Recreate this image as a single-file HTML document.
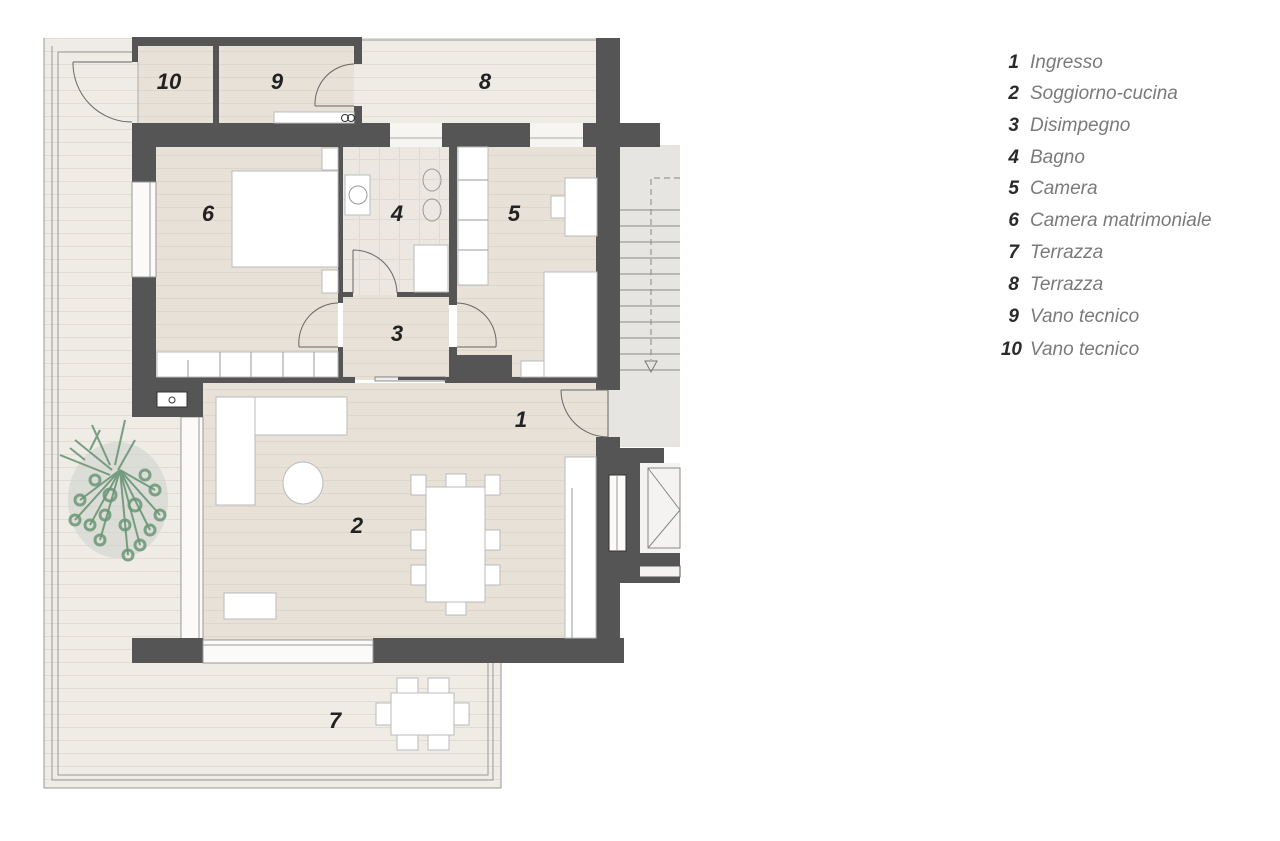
<!DOCTYPE html>
<html><head><meta charset="utf-8"><style>
html,body{margin:0;padding:0;background:#fff;}
svg{display:block;}
.leg{font-family:"Liberation Sans",sans-serif;font-size:19px;}
</style></head><body>
<svg width="1280" height="841" viewBox="0 0 1280 841" xmlns="http://www.w3.org/2000/svg">
<defs>
<pattern id="tl" width="20" height="13" patternUnits="userSpaceOnUse"><rect width="20" height="13" fill="#efebe5"/><line x1="0" y1="12.5" x2="20" y2="12.5" stroke="#e2dcd3" stroke-width="1"/></pattern>
<pattern id="fl" width="20" height="13" patternUnits="userSpaceOnUse"><rect width="20" height="13" fill="#e7e1d7"/><line x1="0" y1="12.5" x2="20" y2="12.5" stroke="#ddd6cb" stroke-width="1"/></pattern>
<pattern id="bt" width="20" height="20" patternUnits="userSpaceOnUse"><rect width="20" height="20" fill="#ece8e1"/><path d="M0 19.5H20M19.5 0V20" stroke="#e0dad0" stroke-width="1"/></pattern>
</defs>

<!-- terrace -->
<path d="M44 38H597V145H210V640H501V788H44Z" fill="url(#tl)"/>
<path d="M44 38V788H501V640" fill="none" stroke="#9a9a9a" stroke-width="1"/>
<path d="M52 46V780H493V663" fill="none" stroke="#9a9a9a" stroke-width="1"/>
<path d="M58 52H132M58 52V775H488V663" fill="none" stroke="#9a9a9a" stroke-width="1"/>
<line x1="362" y1="40" x2="597" y2="40" stroke="#9a9a9a"/>

<!-- stair area -->
<rect x="608" y="145" width="72" height="302" fill="#e7e5e2"/>
<g stroke="#8a8a8a" stroke-width="1">
<line x1="620" y1="210" x2="680" y2="210"/><line x1="620" y1="226" x2="680" y2="226"/><line x1="620" y1="242" x2="680" y2="242"/><line x1="620" y1="258" x2="680" y2="258"/><line x1="620" y1="274" x2="680" y2="274"/><line x1="620" y1="290" x2="680" y2="290"/><line x1="620" y1="306" x2="680" y2="306"/><line x1="620" y1="322" x2="680" y2="322"/><line x1="620" y1="338" x2="680" y2="338"/><line x1="620" y1="354" x2="680" y2="354"/><line x1="620" y1="370" x2="680" y2="370"/>
</g>
<path d="M680 178H651V360" fill="none" stroke="#888" stroke-dasharray="6,4"/>
<path d="M645 361L657 361L651 372Z" fill="none" stroke="#777"/>
<rect x="640" y="463" width="40" height="90" fill="#f4f3f1"/>
<rect x="648" y="468" width="32" height="80" fill="none" stroke="#888"/>
<path d="M648 468L680 510M648 548L680 510" stroke="#888"/>
<rect x="609" y="566" width="71" height="11" fill="#f4f3f1" stroke="#555"/>
<circle cx="614" cy="572" r="3" fill="#fff" stroke="#333"/>

<!-- storage rooms floors -->
<rect x="138" y="46" width="216" height="77" fill="url(#fl)"/>
<line x1="138" y1="62" x2="138" y2="123" stroke="#aaa"/>
<!-- room floors -->
<rect x="156" y="147" width="182" height="231" fill="url(#fl)"/>
<rect x="343" y="147" width="106" height="148" fill="url(#bt)"/>
<rect x="343" y="295" width="106" height="85" fill="url(#fl)"/>
<rect x="457" y="147" width="140" height="231" fill="url(#fl)"/>
<rect x="203" y="383" width="405" height="257" fill="url(#fl)"/>
<rect x="181" y="417" width="22" height="223" fill="#fbfaf8" stroke="#999"/>
<line x1="199" y1="417" x2="199" y2="640" stroke="#999"/>

<!-- walls -->
<g fill="#555">
<rect x="132" y="37" width="230" height="9"/>
<rect x="132" y="46" width="6" height="16"/>
<rect x="213" y="46" width="6" height="77"/>
<rect x="354" y="46" width="8" height="18"/>
<rect x="354" y="106" width="8" height="17"/>
<rect x="132" y="123" width="258" height="24"/>
<rect x="442" y="123" width="88" height="24"/>
<rect x="583" y="123" width="77" height="24"/>
<rect x="596" y="38" width="24" height="352"/>
<rect x="132" y="147" width="24" height="35"/>
<rect x="132" y="277" width="24" height="140"/>
<rect x="132" y="377" width="71" height="40"/>
<rect x="156" y="377" width="199" height="6"/>
<rect x="338" y="147" width="5" height="156"/>
<rect x="338" y="347" width="5" height="36"/>
<rect x="343" y="292" width="10" height="5"/>
<rect x="397" y="292" width="60" height="5"/>
<rect x="449" y="147" width="8" height="158"/>
<rect x="449" y="347" width="8" height="36"/>
<rect x="449" y="355" width="63" height="25"/>
<rect x="445" y="377" width="175" height="6"/>
<rect x="596" y="437" width="24" height="226"/>
<rect x="596" y="448" width="68" height="15"/>
<rect x="620" y="463" width="20" height="120"/>
<rect x="640" y="553" width="40" height="13"/>
<rect x="640" y="577" width="40" height="6"/>
<rect x="132" y="638" width="71" height="25"/>
<rect x="373" y="638" width="251" height="25"/>
</g>
<rect x="609" y="475" width="17" height="76" fill="#fbfaf8" stroke="#333"/>
<line x1="617" y1="475" x2="617" y2="551" stroke="#999"/>
<rect x="157" y="392" width="30" height="15" fill="#fff" stroke="#333"/>
<circle cx="172" cy="400" r="3" fill="none" stroke="#333"/>

<!-- windows -->
<rect x="132" y="182" width="24" height="95" fill="#fbfaf8" stroke="#999"/>
<line x1="150" y1="182" x2="150" y2="277" stroke="#999"/>
<rect x="203" y="640" width="170" height="23" fill="#fbfaf8" stroke="#999"/>
<line x1="203" y1="645" x2="373" y2="645" stroke="#999"/>
<rect x="390" y="123" width="52" height="24" fill="#f7f5f1"/><line x1="390" y1="138" x2="442" y2="138" stroke="#aaa"/>
<rect x="530" y="123" width="53" height="24" fill="#f7f5f1"/><line x1="530" y1="138" x2="583" y2="138" stroke="#aaa"/>
<rect x="375" y="377" width="70" height="4" fill="#eee" stroke="#777" stroke-width=".8"/>
<rect x="398" y="377" width="47" height="3" fill="#555"/>

<!-- doors -->
<g fill="none" stroke="#666" stroke-width="1">
<path d="M73 62H132M73 62A59 59 0 0 0 132 122"/>
<path d="M315 106H354M315 106A40 40 0 0 1 354 64"/>
<path d="M353 250V293M353 250A44 44 0 0 1 397 293"/>
<path d="M299 347H338M299 347A40 40 0 0 1 338 303"/>
<path d="M496 347H457M496 347A40 40 0 0 0 457 303"/>
<path d="M561 390H608V437M561 390A47 47 0 0 0 608 437"/>
</g>

<!-- furniture -->
<g fill="#fff" stroke="#bbb" stroke-width="1">
<rect x="274" y="112" width="80" height="11"/>
<rect x="322" y="148" width="16" height="22"/>
<rect x="322" y="270" width="16" height="23"/>
<rect x="232" y="171" width="106" height="96"/>
<rect x="157" y="352" width="181" height="25"/>
<rect x="345" y="175" width="25" height="40"/>
<rect x="414" y="245" width="34" height="47"/>
<rect x="458" y="147" width="30" height="138"/>
<rect x="565" y="178" width="32" height="58"/>
<rect x="551" y="196" width="14" height="22"/>
<rect x="544" y="272" width="53" height="105"/>
<rect x="521" y="361" width="23" height="16"/>
<rect x="216" y="397" width="131" height="38"/>
<rect x="216" y="397" width="39" height="108"/>
<ellipse cx="303" cy="483" rx="20" ry="21"/>
<rect x="426" y="487" width="59" height="115"/>
<rect x="224" y="593" width="52" height="26"/>
<rect x="565" y="457" width="31" height="181"/>
<rect x="391" y="693" width="63" height="42"/>
<rect x="397" y="678" width="21" height="15"/><rect x="428" y="678" width="21" height="15"/>
<rect x="397" y="735" width="21" height="15"/><rect x="428" y="735" width="21" height="15"/>
<rect x="376" y="703" width="15" height="22"/><rect x="454" y="703" width="15" height="22"/>
<rect x="411" y="475" width="15" height="20"/><rect x="411" y="530" width="15" height="20"/><rect x="411" y="565" width="15" height="20"/>
<rect x="485" y="475" width="15" height="20"/><rect x="485" y="530" width="15" height="20"/><rect x="485" y="565" width="15" height="20"/>
<rect x="446" y="474" width="20" height="13"/><rect x="446" y="602" width="20" height="13"/>
</g>
<g fill="none" stroke="#999">
<line x1="188" y1="360" x2="188" y2="377"/><line x1="220" y1="352" x2="220" y2="377"/><line x1="251" y1="352" x2="251" y2="377"/><line x1="283" y1="352" x2="283" y2="377"/><line x1="314" y1="352" x2="314" y2="377"/>
<line x1="458" y1="180" x2="488" y2="180"/><line x1="458" y1="220" x2="488" y2="220"/><line x1="458" y1="250" x2="488" y2="250"/>
<circle cx="358" cy="195" r="9"/><ellipse cx="432" cy="180" rx="9" ry="11"/><ellipse cx="432" cy="210" rx="9" ry="11"/>
<line x1="572" y1="488" x2="572" y2="638"/>
<circle cx="345" cy="118" r="3.5" stroke="#333"/><circle cx="351" cy="118" r="3.5" stroke="#333"/>
</g>

<!-- plant -->
<ellipse cx="118" cy="500" rx="50" ry="58" fill="#cfd3cc" opacity="0.6"/>
<g stroke="#6a9677" stroke-width="2" fill="none" opacity="0.9">
<path d="M92 425L110 465M75 440L112 470M60 455L110 475M125 420L115 465M135 440L118 470M100 430L90 450M70 448L85 460"/>
<path d="M120 470L100 540M120 470L150 530M120 470L80 500M120 470L155 490M120 470L128 555M120 470L90 525M120 470L140 545M120 470L160 515M120 470L75 520"/>
</g>
<g fill="none" stroke="#6a9677" stroke-width="3" opacity="0.85">
<circle cx="100" cy="540" r="5"/><circle cx="150" cy="530" r="5"/><circle cx="80" cy="500" r="5"/><circle cx="155" cy="490" r="5"/><circle cx="128" cy="555" r="5"/><circle cx="90" cy="525" r="5"/><circle cx="140" cy="545" r="5"/><circle cx="110" cy="495" r="6"/><circle cx="135" cy="505" r="6"/><circle cx="105" cy="515" r="5"/><circle cx="160" cy="515" r="5"/><circle cx="75" cy="520" r="5"/><circle cx="125" cy="525" r="5"/><circle cx="145" cy="475" r="5"/><circle cx="95" cy="480" r="5"/>
</g>

<!-- room labels -->
<g font-family="Liberation Sans, sans-serif" font-weight="bold" font-style="italic" font-size="22" fill="#222" text-anchor="middle">
<text x="169" y="89">10</text><text x="277" y="89">9</text><text x="485" y="89">8</text>
<text x="208" y="221">6</text><text x="397" y="221">4</text><text x="514" y="221">5</text>
<text x="397" y="341">3</text><text x="521" y="427">1</text><text x="357" y="533">2</text><text x="335" y="728">7</text>
</g>

<!-- legend -->
<g class="leg">
<g font-weight="bold" fill="#2a2a2a" text-anchor="end" font-style="italic">
<text x="1019" y="68">1</text><text x="1019" y="99">2</text><text x="1019" y="131">3</text><text x="1019" y="163">4</text><text x="1019" y="194">5</text><text x="1019" y="226">6</text><text x="1019" y="258">7</text><text x="1019" y="290">8</text><text x="1019" y="322">9</text><text x="1022" y="355">10</text>
</g>
<g font-style="italic" fill="#7a7a7a">
<text x="1030" y="68">Ingresso</text><text x="1030" y="99">Soggiorno-cucina</text><text x="1030" y="131">Disimpegno</text><text x="1030" y="163">Bagno</text><text x="1030" y="194">Camera</text><text x="1030" y="226">Camera matrimoniale</text><text x="1030" y="258">Terrazza</text><text x="1030" y="290">Terrazza</text><text x="1030" y="322">Vano tecnico</text><text x="1030" y="355">Vano tecnico</text>
</g>
</g>
</svg>
</body></html>
